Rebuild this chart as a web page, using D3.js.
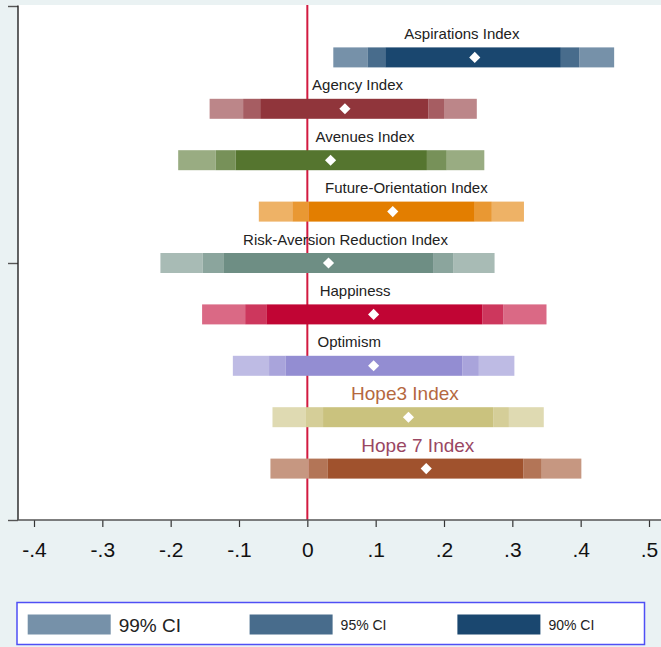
<!DOCTYPE html>
<html>
<head>
<meta charset="utf-8">
<script src="https://cdn.jsdelivr.net/npm/d3@7"></script>
<style>
  html, body { margin: 0; padding: 0; background: #eaf2f3; }
  svg { display: block; font-family: "Liberation Sans", Arial, sans-serif; }
</style>
</head>
<body>
<svg id="chart" width="661" height="647"></svg>
<script>
// Coefficient estimates with nested 99/95/90% confidence intervals, one row per index
const indices = ["Aspirations Index", "Agency Index", "Avenues Index", "Future-Orientation Index",
  "Risk-Aversion Reduction Index", "Happiness", "Optimism", "Hope3 Index", "Hope 7 Index"];
const rowPos = [9, 8, 7, 6, 5, 4, 3, 2, 1];
const estimates = [0.245, 0.055, 0.034, 0.125, 0.031, 0.097, 0.097, 0.148, 0.174];
const ci99Low  = [0.038, -0.143, -0.189, -0.071, -0.215, -0.154, -0.109, -0.051, -0.054];
const ci99High = [0.449, 0.248, 0.259, 0.317, 0.274, 0.350, 0.303, 0.346, 0.401];
const ci95Low  = [0.088, -0.094, -0.134, -0.022, -0.153, -0.091, -0.056, -0.002, 0.002];
const ci95High = [0.398, 0.200, 0.204, 0.270, 0.214, 0.287, 0.251, 0.295, 0.343];
const ci90Low  = [0.114, -0.069, -0.105, 0.002, -0.123, -0.060, -0.032, 0.023, 0.030];
const ci90High = [0.371, 0.177, 0.175, 0.245, 0.184, 0.256, 0.227, 0.272, 0.316];
// x value at which each row's label text begins
const labelStart = [0.142, 0.007, 0.012, 0.026, -0.094, 0.018, 0.015, 0.064, 0.079];
const baseColors = ["#1a476f", "#90353b", "#55752f", "#e37e00", "#6e8e84",
  "#c10534", "#938dd2", "#cac27e", "#a0522d"];
const xTicks = [-0.4, -0.3, -0.2, -0.1, 0, 0.1, 0.2, 0.3, 0.4, 0.5];
const yTicks = [0, 5, 10];
const ciLevels = ["99% CI", "95% CI", "90% CI"];
const ciStrength = [0.6, 0.8, 1.0];

const svg = d3.select("#chart");
const W = 661, H = 647;
const plot = { left: 18, top: 5, bottom: 520 };

const x = d3.scaleLinear().domain([-0.4, 0.5]).range([34, 649]);
const y = d3.scaleLinear().domain([0, 10]).range([520, 6]);
const shade = (c, k) => d3.interpolateRgb("#ffffff", c)(k);
const barH = 20;

// outer region and white plot region
svg.append("rect").attr("width", W).attr("height", H).attr("fill", "#eaf2f3");
svg.append("rect").attr("x", plot.left).attr("y", plot.top)
  .attr("width", W - plot.left).attr("height", plot.bottom - plot.top).attr("fill", "#ffffff");

// reference line at zero
svg.append("line")
  .attr("x1", x(0)).attr("x2", x(0)).attr("y1", plot.top).attr("y2", plot.bottom)
  .attr("stroke", "#d21a40").attr("stroke-width", 2);

const rows = indices.map((name, i) => ({
  name, pos: rowPos[i], est: estimates[i], color: baseColors[i], labelAt: labelStart[i],
  segs: [
    { lo: ci99Low[i], hi: ci95Low[i], k: ciStrength[0] },
    { lo: ci95High[i], hi: ci99High[i], k: ciStrength[0] },
    { lo: ci95Low[i], hi: ci90Low[i], k: ciStrength[1] },
    { lo: ci90High[i], hi: ci95High[i], k: ciStrength[1] },
    { lo: ci90Low[i], hi: ci90High[i], k: ciStrength[2] }
  ],
  big: i >= 7
}));

const g = svg.append("g").selectAll("g.row").data(rows).join("g").attr("class", "row");

g.selectAll("rect").data(d => d.segs.map(s => ({ ...s, pos: d.pos, color: d.color })))
  .join("rect")
  .attr("x", s => x(s.lo))
  .attr("width", s => x(s.hi) - x(s.lo))
  .attr("y", s => y(s.pos) - barH / 2)
  .attr("height", barH)
  .attr("fill", s => shade(s.color, s.k));

g.append("path")
  .attr("d", d3.symbol(d3.symbolSquare, 62)())
  .attr("transform", d => `translate(${x(d.est)},${y(d.pos)}) rotate(45)`)
  .attr("fill", "#ffffff");

const labelColors = { "Hope3 Index": "#b5683f", "Hope 7 Index": "#9a4763" };
g.append("text")
  .attr("x", d => x(d.labelAt))
  .attr("y", d => y(d.pos) - (d.big ? 17 : 18.5))
  .attr("font-size", d => d.big ? 19 : 15)
  .attr("fill", d => labelColors[d.name] || "#222222")
  .text(d => d.name);

// y axis (unlabelled ticks)
const yAxis = svg.append("g").attr("transform", `translate(${plot.left},0)`)
  .call(d3.axisLeft(y).tickValues(yTicks).tickFormat("").tickSize(10).tickSizeOuter(0));
yAxis.select(".domain").remove();
yAxis.append("line").attr("x1", 0).attr("x2", 0).attr("y1", plot.top + 0.5).attr("y2", plot.bottom)
  .attr("stroke", "#222").attr("stroke-width", 1.4);
yAxis.selectAll(".tick line").attr("stroke", "#555").attr("stroke-width", 1.4);

// x axis: labels without leading zero, plain hyphen for negatives
const fmt = v => v === 0 ? "0" : (v < 0 ? "-" : "") + d3.format(".1f")(Math.abs(v)).replace(/^0/, "");
const xAxis = svg.append("g").attr("transform", `translate(0,${plot.bottom})`)
  .call(d3.axisBottom(x).tickValues(xTicks).tickFormat(fmt).tickSize(7).tickSizeOuter(0));
xAxis.select(".domain").remove();
xAxis.append("line").attr("x1", plot.left).attr("x2", W).attr("y1", 0).attr("y2", 0)
  .attr("stroke", "#555").attr("stroke-width", 1.4);
xAxis.selectAll(".tick line").attr("stroke", "#333").attr("stroke-width", 1.2);
xAxis.selectAll(".tick text").attr("font-size", 21).attr("font-family", "Liberation Sans, Arial, sans-serif")
  .attr("fill", "#111").attr("dy", null).attr("y", 36.5);

// legend
const leg = svg.append("g");
leg.append("rect").attr("x", 17).attr("y", 602.5).attr("width", 627.5).attr("height", 42)
  .attr("fill", "#ffffff").attr("stroke", "#4f4ff5").attr("stroke-width", 1.5);
const legX = [27.7, 249.6, 457.4];
const legTextSize = [19, 14, 14];
ciLevels.forEach((lab, i) => {
  leg.append("rect").attr("x", legX[i]).attr("y", 614.5).attr("width", 83).attr("height", 20)
    .attr("fill", shade(baseColors[0], ciStrength[i]));
  leg.append("text").attr("x", legX[i] + 91).attr("y", i === 0 ? 631.5 : 629.5)
    .attr("font-size", legTextSize[i]).attr("fill", "#222").text(lab);
});
</script>
</body>
</html>
